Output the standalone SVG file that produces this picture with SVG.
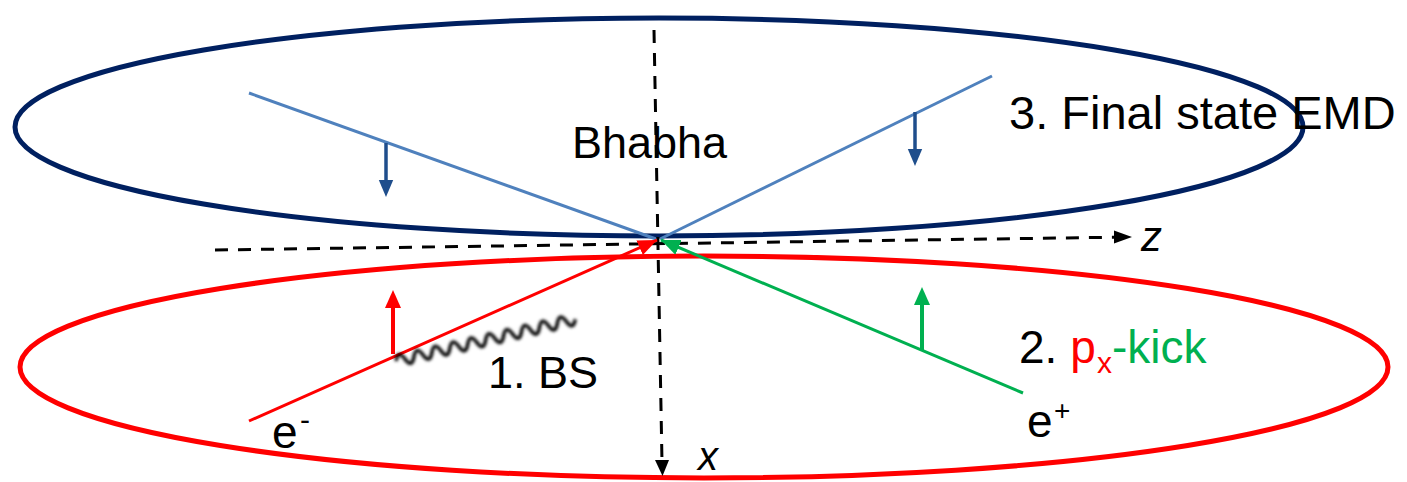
<svg xmlns="http://www.w3.org/2000/svg" width="1407" height="482" viewBox="0 0 1407 482">
<style>
.t{font-family:"Liberation Sans",Arial,sans-serif;fill:#000}
.ax{stroke:#000;stroke-width:3;stroke-dasharray:13 10;fill:none}
.bl{stroke:#4f81bd;stroke-width:3;fill:none}
.ba{stroke:#1f4e8c;stroke-width:3.5;fill:none}
</style>
<defs>
<path id="head" d="M-8,0L8,0L0,-18z"/>
<marker id="ahR" viewBox="0 0 10 10" refX="10" refY="5" markerWidth="19" markerHeight="16" preserveAspectRatio="none" markerUnits="userSpaceOnUse" orient="auto"><path d="M0,0L10,5L0,10z" fill="#ff0000"/></marker>
<marker id="ahG" viewBox="0 0 10 10" refX="10" refY="5" markerWidth="19" markerHeight="16" preserveAspectRatio="none" markerUnits="userSpaceOnUse" orient="auto"><path d="M0,0L10,5L0,10z" fill="#00b050"/></marker>
<filter id="blur" x="-10%" y="-60%" width="120%" height="220%"><feGaussianBlur stdDeviation="1.5"/></filter>
</defs>
<rect width="1407" height="482" fill="#fff"/>
<g id="ellipse-final">
<ellipse cx="659" cy="127" rx="644" ry="109" fill="none" stroke="#002060" stroke-width="5"/>
</g>
<g id="ellipse-initial">
<ellipse cx="704" cy="367" rx="684" ry="111" fill="none" stroke="#ff0000" stroke-width="5"/>
</g>
<g id="connectors">
<line class="bl" x1="249" y1="93" x2="656" y2="239"/>
<line class="bl" x1="992" y1="76" x2="660" y2="239"/>
<line class="ba" x1="386" y1="143" x2="386" y2="182"/>
<use href="#head" fill="#1f4e8c" transform="translate(386,180) scale(0.9,-0.95)"/>
<line class="ba" x1="915" y1="112" x2="915" y2="151"/>
<use href="#head" fill="#1f4e8c" transform="translate(915,149) scale(0.9,-0.95)"/>
<line class="ax" x1="215" y1="250" x2="1116" y2="237.2"/>
<path d="M1114,230.5L1132,237L1114,243.5z" fill="#000"/>
<line class="ax" x1="654" y1="30" x2="662" y2="462"/>
<path d="M655,460L662.5,476L669,460z" fill="#000"/>
<line x1="249" y1="421" x2="657" y2="240" stroke="#ff0000" stroke-width="3" marker-end="url(#ahR)"/>
<line x1="1023" y1="393" x2="661" y2="240" stroke="#00b050" stroke-width="3" marker-end="url(#ahG)"/>
<line x1="393" y1="354" x2="393" y2="306" stroke="#ff0000" stroke-width="4"/>
<use href="#head" fill="#ff0000" transform="translate(393,308)"/>
<line x1="922" y1="350" x2="922" y2="303" stroke="#00b050" stroke-width="4"/>
<use href="#head" fill="#00b050" transform="translate(922,305)"/>
<g transform="translate(396,361) rotate(-13.1)" filter="url(#blur)">
<path d="M0,0 q4.6,-11 9.2,0 t9.2,0 t9.2,0 t9.2,0 t9.2,0 t9.2,0 t9.2,0 t9.2,0 t9.2,0 t9.2,0 t9.2,0 t9.2,0 t9.2,0 t9.2,0 t9.2,0 t9.2,0 t9.2,0 t9.2,0 t9.2,0 t9.2,0" fill="none" stroke="#000" stroke-width="3.5"/>
</g>
</g>
<g id="label-bhabha"><text class="t" x="572" y="158" font-size="45">Bhabha</text></g>
<g id="label-final"><text class="t" x="1009" y="129" font-size="47">3. Final state EMD</text></g>
<g id="label-bs"><text class="t" x="488" y="388" font-size="45">1. BS</text></g>
<g id="label-kick"><text class="t" x="1019" y="363" font-size="46">2. <tspan fill="#ff0000">p</tspan></text><text x="1097" y="373" font-size="30" fill="#ff0000" style="font-family:'Liberation Sans',Arial,sans-serif">x</text><text x="1112" y="363" font-size="46" fill="#00b050" style="font-family:'Liberation Sans',Arial,sans-serif">-kick</text></g>
<g id="label-eminus"><text class="t" x="272" y="448" font-size="46">e</text><text class="t" x="300" y="430" font-size="30">-</text></g>
<g id="label-eplus"><text class="t" x="1027" y="437" font-size="46">e</text><text class="t" x="1054" y="420" font-size="28">+</text></g>
<g id="label-z"><text class="t" x="1141" y="251" font-size="42" font-style="italic">z</text></g>
<g id="label-x"><text class="t" x="698" y="470" font-size="40" font-style="italic">x</text></g>
</svg>
